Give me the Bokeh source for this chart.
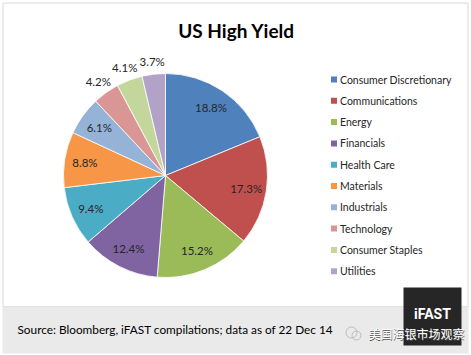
import math
from bokeh.plotting import figure
from bokeh.models import Range1d, ColumnDataSource
from bokeh.core.properties import value
from bokeh.embed import file_html
from bokeh.resources import INLINE

# ---- data ----
categories = ["Consumer Discretionary", "Communications", "Energy", "Financials",
              "Health Care", "Materials", "Industrials", "Technology",
              "Consumer Staples", "Utilities"]
weights = [18.8, 17.3, 15.2, 12.4, 9.4, 8.8, 6.1, 4.2, 4.1, 3.7]
colors = ["#4F81BD", "#C0504D", "#9BBB59", "#8064A2", "#4BACC6",
          "#F79646", "#95B3D7", "#D99694", "#C3D69B", "#B3A2C7"]
title_text = "US High Yield"
source_text = "Source: Bloomberg, iFAST compilations; data as of 22 Dec 14"

W, H = 471, 355
def Y(ypx):
    return H - ypx

p = figure(width=W, height=H, x_range=Range1d(0, W), y_range=Range1d(0, H),
           x_axis_type=None, y_axis_type=None, toolbar_location=None,
           output_backend="svg", min_border=0, outline_line_color=None,
           background_fill_color="white", border_fill_color="white")
p.grid.visible = False

# chart frame and footer band
p.quad(left=[2.5], right=[467.5], top=[Y(2.5)], bottom=[Y(306)],
       fill_color="white", line_color="#D9D9D9", line_width=1)
p.quad(left=[2], right=[468], top=[Y(306)], bottom=[Y(353)],
       fill_color="#EAEAEA", line_color=None)

# pie
cx, cy, R = 165, Y(175), 102
total = sum(weights)
starts, ends, lx, ly, labels = [], [], [], [], []
cum = 0.0
for w in weights:
    a = cum / total
    b = (cum + w) / total
    starts.append(math.pi / 2 - 2 * math.pi * b)
    ends.append(math.pi / 2 - 2 * math.pi * a)
    mid = (a + b) / 2 * 2 * math.pi
    rf = 0.80 if w >= 5 else 1.13
    lx.append(cx + rf * R * math.sin(mid))
    ly.append(cy + rf * R * math.cos(mid))
    labels.append(f"{w:.1f}%")
    cum += w

src = ColumnDataSource(dict(start=starts, end=ends, color=colors,
                            lx=lx, ly=ly, label=labels))
p.wedge(x=cx, y=cy, radius=R, start_angle="start", end_angle="end",
        fill_color="color", line_color="white", line_width=0.8,
        direction="anticlock", source=src)
p.text(x="lx", y="ly", text="label", source=src, text_align="center",
       text_baseline="middle", text_font=value("Lato"), text_font_size="11.5px",
       text_color="#262626")

# title
p.text(x=[236], y=[Y(30)], text=[title_text], text_align="center",
       text_baseline="middle", text_font=value("Lato"), text_font_style="bold",
       text_font_size="19px", text_color="#000000")

# legend
ys = [Y(79 + i * 21.3) for i in range(len(categories))]
p.rect(x=[333.5] * len(categories), y=ys, width=6, height=6,
       fill_color=colors, line_color=None)
p.text(x=[339.5] * len(categories), y=ys, text=categories, text_align="left",
       text_baseline="middle", text_font=value("Lato"), text_font_size="10.5px",
       text_color="#262626")

# source note
p.text(x=[17], y=[Y(329)], text=[source_text], text_align="left",
       text_baseline="middle", text_font=value("Lato"), text_font_size="11.8px",
       text_color="#000000")

# iFAST logo box
p.quad(left=[403], right=[461], top=[Y(287)], bottom=[Y(345)],
       fill_color="#262626", line_color=None)
p.text(x=[432], y=[Y(313)], text=["iFAST"], text_align="center",
       text_baseline="middle", text_font=value("Roboto"), text_font_style="bold",
       text_font_size="14px", text_color="white")

# watermark
p.circle(x=[351, 356], y=[Y(332), Y(335)], radius=[5.5, 4.5],
         fill_color=None, line_color="#BBBBBB", line_width=1)
p.text(x=[416.5], y=[Y(333.5)], text=["美国海银市场观察"], text_align="center",
       text_baseline="middle", text_font=value("Noto Sans CJK SC"),
       text_font_size="12px", text_color="#555555")
p.text(x=[416], y=[Y(333)], text=["美国海银市场观察"], text_align="center",
       text_baseline="middle", text_font=value("Noto Sans CJK SC"),
       text_font_size="12px", text_color="white")

open("out.html", "w").write(file_html(p, INLINE))
